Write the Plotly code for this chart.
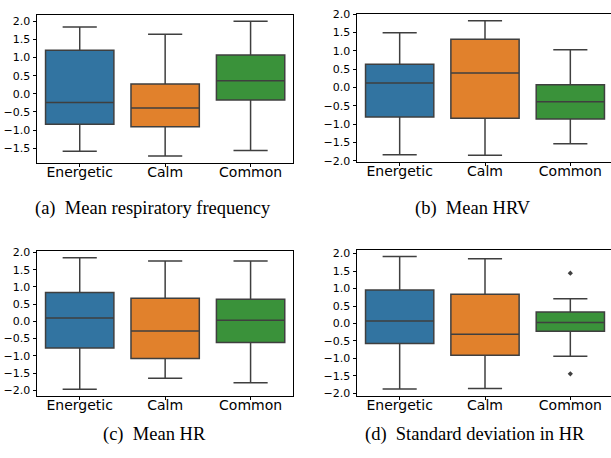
import plotly.graph_objects as go

categories = ["Energetic", "Calm", "Common"]
colors = ["#3274a1", "#e1812c", "#3a923a"]

# (a) Mean respiratory frequency
resp_lower = [-1.58, -1.71, -1.56]
resp_q1 = [-0.84, -0.91, -0.17]
resp_median = [-0.24, -0.39, 0.36]
resp_q3 = [1.20, 0.27, 1.07]
resp_upper = [1.84, 1.64, 2.00]

# (b) Mean HRV
hrv_lower = [-1.84, -1.85, -1.54]
hrv_q1 = [-0.81, -0.84, -0.86]
hrv_median = [0.12, 0.39, -0.39]
hrv_q3 = [0.63, 1.31, 0.07]
hrv_upper = [1.49, 1.82, 1.03]

# (c) Mean HR
hr_lower = [-1.97, -1.65, -1.78]
hr_q1 = [-0.77, -1.08, -0.61]
hr_median = [0.10, -0.28, 0.03]
hr_q3 = [0.84, 0.67, 0.64]
hr_upper = [1.85, 1.75, 1.75]

# (d) Standard deviation in HR
sd_lower = [-1.87, -1.86, -0.94]
sd_q1 = [-0.57, -0.91, -0.22]
sd_median = [0.07, -0.31, 0.03]
sd_q3 = [0.96, 0.84, 0.33]
sd_upper = [1.92, 1.85, 0.71]
sd_outlier_cat = ["Common", "Common"]
sd_outlier_val = [1.44, -1.44]

captions = ["(a)\u2002Mean respiratory frequency", "(b)\u2002Mean HRV",
            "(c)\u2002Mean HR", "(d)\u2002Standard deviation in HR"]
ytick_vals = [-2.0, -1.5, -1.0, -0.5, 0.0, 0.5, 1.0, 1.5, 2.0]

W, H = 611, 458
LINE = "#3f3f3f"

panels = [
    dict(stats=(resp_lower, resp_q1, resp_median, resp_q3, resp_upper),
         xd=(37, 293.3), yd=(9, 161), yr=(-1.90, 2.18), xr=(-0.5, 2.5), ymirror=True,
         cap=(152.5, 208)),
    dict(stats=(hrv_lower, hrv_q1, hrv_median, hrv_q3, hrv_upper),
         xd=(357, 611), yd=(8.3, 160), yr=(-2.03, 2.00), xr=(-0.5, 2.5 - 2 / 85.3), ymirror=False,
         cap=(472.5, 208)),
    dict(stats=(hr_lower, hr_q1, hr_median, hr_q3, hr_upper),
         xd=(37, 293.3), yd=(251.7, 400.3), yr=(-2.16, 2.04), xr=(-0.5, 2.5), ymirror=True,
         cap=(154.5, 440.5)),
    dict(stats=(sd_lower, sd_q1, sd_median, sd_q3, sd_upper),
         xd=(357, 611), yd=(250.3, 400), yr=(-2.06, 2.11), xr=(-0.5, 2.5 - 2 / 85.3), ymirror=False,
         cap=(475, 440.5)),
]

fig = go.Figure()
layout = {}
annotations = []
for i, p in enumerate(panels):
    n = "" if i == 0 else str(i + 1)
    xa, ya = "x" + n, "y" + n
    lo, q1, med, q3, up = p["stats"]
    for j, cat in enumerate(categories):
        fig.add_trace(go.Box(
            x=[cat], q1=[q1[j]], median=[med[j]], q3=[q3[j]],
            lowerfence=[lo[j]], upperfence=[up[j]],
            fillcolor=colors[j], line=dict(color=LINE, width=1.5),
            width=0.8, whiskerwidth=0.5, boxpoints=False, showlegend=False,
            hoverinfo="skip", xaxis=xa, yaxis=ya,
        ))
    if i == 3:
        fig.add_trace(go.Scatter(
            x=sd_outlier_cat, y=sd_outlier_val, mode="markers",
            marker=dict(symbol="diamond", size=4, color=LINE),
            showlegend=False, hoverinfo="skip", xaxis=xa, yaxis=ya,
        ))
    layout["xaxis" + n] = dict(
        domain=[p["xd"][0] / W, min(p["xd"][1] / W, 1.0)],
        anchor=ya, type="category", categoryorder="array", categoryarray=categories,
        range=list(p["xr"]), showline=True, linecolor="black", linewidth=1, mirror=True,
        ticks="outside", ticklen=3.5, tickwidth=0.8, tickcolor="black",
        ticklabelstandoff=-7,
        tickfont=dict(family="DejaVu Sans", size=14, color="black"),
        showgrid=False, zeroline=False, fixedrange=True,
    )
    layout["yaxis" + n] = dict(
        domain=[(H - p["yd"][1]) / H, (H - p["yd"][0]) / H],
        anchor=xa, range=list(p["yr"]), tickvals=ytick_vals, tickformat=".1f",
        showline=True, linecolor="black", linewidth=1, mirror=p["ymirror"],
        ticks="outside", ticklen=3.5, tickwidth=0.8, tickcolor="black",
        tickfont=dict(family="DejaVu Sans", size=11, color="black"),
        showgrid=False, zeroline=False, fixedrange=True,
    )
    annotations.append(dict(
        text=captions[i], x=p["cap"][0] / W, y=(H - p["cap"][1]) / H,
        xref="paper", yref="paper", xanchor="center", yanchor="middle",
        showarrow=False, font=dict(family="Liberation Serif", size=18.5, color="black"),
    ))

fig.update_layout(
    width=W, height=H, margin=dict(l=0, r=0, t=0, b=0),
    paper_bgcolor="white", plot_bgcolor="white",
    boxmode="overlay", annotations=annotations, **layout,
)

fig.write_html("out.html")
